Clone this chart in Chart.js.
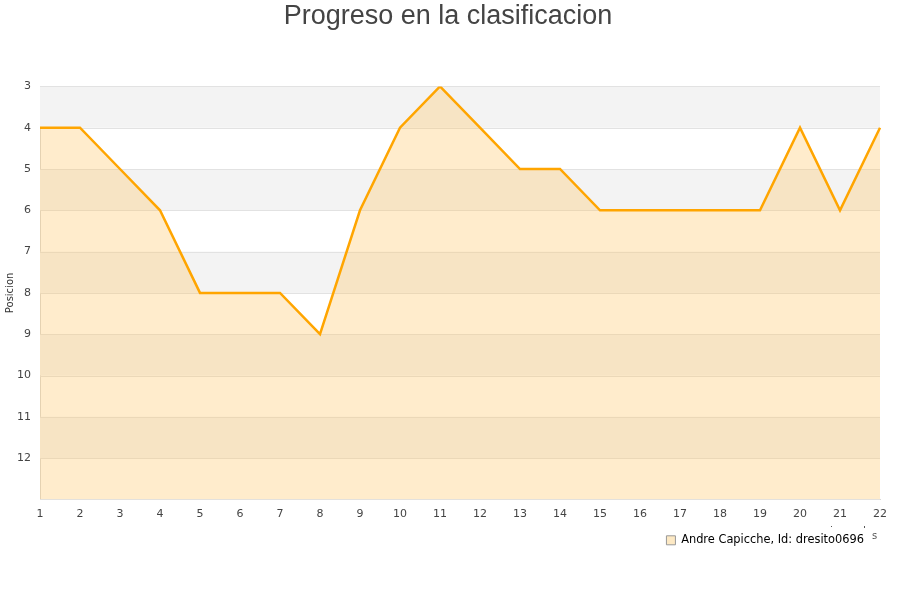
<!DOCTYPE html>
<html>
<head>
<meta charset="utf-8">
<script src="https://cdn.jsdelivr.net/npm/chart.js@4.4.0/dist/chart.umd.min.js"></script>
<style>
html, body { margin: 0; padding: 0; background: #fff; }
#wrap { width: 900px; height: 600px; }
</style>
</head>
<body>
<div id="wrap"><canvas id="posChart"></canvas></div>
<script>
const jornadas = ["1","2","3","4","5","6","7","8","9","10","11","12","13","14","15","16","17","18","19","20","21","22"];
const posiciones = [4,4,5,6,8,8,8,9,6,4,3,4,5,5,6,6,6,6,6,4,6,4];
const yMin = 3;
const yMax = 13;
const playerName = "Andre Capicche, Id: dresito0696";

// alternating grey bands behind the plot, plus the y title
const bandsPlugin = {
    id: "bands",
    afterUpdate(chart) {
        // nudge the legend a bit to the left
        chart.legend.left -= 10;
        chart.legend.right -= 10;
    },
    beforeDatasetsDraw(chart) {
        const ctx = chart.ctx;
        const area = chart.chartArea;
        const y = chart.scales.y;
        ctx.save();
        ctx.fillStyle = "#f3f3f3";
        for (let v = yMin; v < yMax; v += 2) {
            const top = y.getPixelForValue(v);
            const bot = y.getPixelForValue(v + 1);
            ctx.fillRect(area.left, top, area.right - area.left, bot - top);
        }
        ctx.strokeStyle = "#e2e2e2";
        ctx.lineWidth = 1;
        for (let v = yMin; v <= yMax; v++) {
            const py = Math.round(y.getPixelForValue(v)) + 0.5;
            ctx.beginPath();
            ctx.moveTo(area.left, py);
            ctx.lineTo(area.right, py);
            ctx.stroke();
        }
        ctx.restore();
    },
    afterDraw(chart) {
        const ctx = chart.ctx;
        const area = chart.chartArea;
        ctx.save();
        ctx.fillStyle = "#333";
        ctx.font = "10px 'DejaVu Sans'";
        ctx.textAlign = "center";
        ctx.textBaseline = "middle";
        ctx.translate(10, (area.top + area.bottom) / 2);
        ctx.rotate(-Math.PI / 2);
        ctx.fillText("Posicion", 0, 0);
        ctx.restore();

        ctx.save();
        ctx.fillStyle = "#555";
        ctx.font = "10px 'DejaVu Sans'";
        ctx.fillText("s", 872, 536);
        ctx.fillRect(831, 526, 1, 1);
        ctx.fillRect(864, 526, 1, 2);
        ctx.restore();
    }
};

document.addEventListener("DOMContentLoaded", () => {
    const ctx = document.getElementById("posChart");
    new Chart(ctx, {
        type: "line",
        data: {
            labels: jornadas,
            datasets: [{
                label: playerName,
                data: posiciones,
                borderColor: "#ffa500",
                borderWidth: 2.5,
                backgroundColor: "rgba(255,198,100,0.33)",
                fill: { value: yMax },
                pointRadius: 0,
                tension: 0
            }]
        },
        options: {
            responsive: true,
            maintainAspectRatio: false,
            animation: false,
            layout: { padding: { left: 16, right: 20, top: 0, bottom: 44 } },
            plugins: {
                title: {
                    display: true,
                    text: "Progreso en la clasificacion",
                    color: "#444",
                    font: { family: "'Liberation Sans'", size: 27, weight: "normal" },
                    padding: { top: 0, bottom: 54 }
                },
                legend: {
                    position: "bottom",
                    align: "end",
                    labels: {
                        boxWidth: 9,
                        boxHeight: 9,
                        padding: 6,
                        color: "#111",
                        font: { family: "'DejaVu Sans'", size: 11.4 },
                        generateLabels(chart) {
                            return [{
                                text: playerName,
                                fillStyle: "#fde9c4",
                                strokeStyle: "#999",
                                lineWidth: 1,
                                datasetIndex: 0
                            }];
                        }
                    }
                },
                tooltip: { enabled: false }
            },
            scales: {
                x: {
                    offset: false,
                    grid: { display: false, drawTicks: false },
                    border: { color: "#d8d8d8" },
                    ticks: {
                        color: "#444",
                        maxRotation: 0,
                        autoSkip: false,
                        padding: 8,
                        font: { family: "'DejaVu Sans'", size: 11 }
                    }
                },
                y: {
                    reverse: true,
                    min: yMin,
                    max: yMax,
                    afterFit(scale) { scale.width = 24; },
                    grid: { display: false, drawTicks: false },
                    border: { color: "#d8d8d8" },
                    ticks: {
                        stepSize: 1,
                        color: "#444",
                        padding: 9,
                        font: { family: "'DejaVu Sans'", size: 11 },
                        callback: (v) => (v === yMax ? "" : v)
                    }
                }
            }
        },
        plugins: [bandsPlugin]
    });
});
</script>
</body>
</html>
